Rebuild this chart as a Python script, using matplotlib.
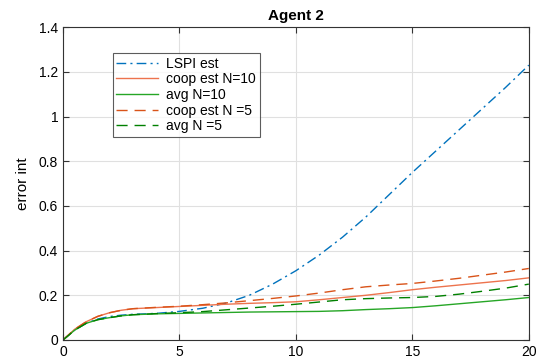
import matplotlib as mpl
import matplotlib.pyplot as plt
import numpy as np

mpl.rcParams['font.family'] = ['Liberation Sans', 'DejaVu Sans']

# Data
t = [0, 0.5, 1, 1.5, 2, 2.5, 3, 4, 5, 6, 7, 8, 9, 10, 11, 12, 13, 14, 15, 16, 17, 18, 19, 20]
lspi = [0, 0.045, 0.075, 0.094, 0.105, 0.111, 0.115, 0.119, 0.128, 0.142, 0.165, 0.200, 0.250, 0.310,
        0.380, 0.460, 0.550, 0.650, 0.750, 0.845, 0.940, 1.035, 1.130, 1.230]
coop10 = [0, 0.048, 0.082, 0.106, 0.122, 0.133, 0.140, 0.145, 0.150, 0.155, 0.160, 0.164, 0.167, 0.171,
          0.180, 0.190, 0.200, 0.212, 0.225, 0.236, 0.246, 0.256, 0.266, 0.278]
avg10 = [0, 0.044, 0.075, 0.091, 0.100, 0.108, 0.113, 0.117, 0.119, 0.121, 0.123, 0.125, 0.126, 0.127,
         0.128, 0.131, 0.136, 0.140, 0.145, 0.153, 0.162, 0.171, 0.180, 0.190]
coop5 = [0, 0.048, 0.082, 0.106, 0.122, 0.133, 0.140, 0.146, 0.151, 0.158, 0.166, 0.176, 0.186, 0.197,
         0.210, 0.225, 0.238, 0.246, 0.253, 0.264, 0.276, 0.290, 0.304, 0.320]
avg5 = [0, 0.044, 0.075, 0.091, 0.100, 0.108, 0.113, 0.118, 0.122, 0.127, 0.135, 0.143, 0.151, 0.160,
        0.170, 0.180, 0.185, 0.188, 0.190, 0.195, 0.205, 0.218, 0.232, 0.250]

blue = (0, 0.447, 0.741)
orange = (0.85, 0.325, 0.098)
lorange = (0.93, 0.45, 0.30)
green = (0, 0.5, 0)
lgreen = (0.15, 0.65, 0.15)

fig = plt.figure(figsize=(5.48, 3.6), dpi=100)
ax = fig.add_axes([0.115, 0.0556, 0.85, 0.869])

ax.plot(t, lspi, linestyle=(0, (7, 3, 1.5, 3)), color=blue, lw=1.0, label='LSPI est')
ax.plot(t, coop10, '-', color=lorange, lw=1.0, label='coop est N=10')
ax.plot(t, avg10, '-', color=lgreen, lw=1.0, label='avg N=10')
ax.plot(t, coop5, linestyle=(0, (8, 5)), color=orange, lw=1.0, label='coop est N =5')
ax.plot(t, avg5, linestyle=(0, (8, 5)), color=green, lw=1.0, label='avg N =5')

ax.set_xlim(0, 20)
ax.set_ylim(0, 1.4)
ax.set_xticks([0, 5, 10, 15, 20])
ax.set_yticks(np.arange(0, 1.41, 0.2))
ax.set_yticklabels(['0', '0.2', '0.4', '0.6', '0.8', '1', '1.2', '1.4'])
ax.grid(True, color='#e0e0e0', lw=0.8)
ax.set_axisbelow(True)
ax.tick_params(direction='in', top=True, right=True, labelsize=10, length=4, color='#333333')
for s in ax.spines.values():
    s.set_color('#333333')
    s.set_linewidth(0.8)

ax.set_title('Agent 2', fontsize=11, fontweight='bold', pad=5)
ax.set_ylabel('error int', fontsize=11, labelpad=6)

leg = ax.legend(loc='upper left', bbox_to_anchor=(0.107, 0.917), fontsize=10, frameon=True,
                fancybox=False, edgecolor='#333333', handlelength=3.0, labelspacing=0.12,
                borderpad=0.25, handletextpad=0.6, borderaxespad=0)
leg.get_frame().set_linewidth(0.8)

plt.savefig('out.png', dpi=100)
